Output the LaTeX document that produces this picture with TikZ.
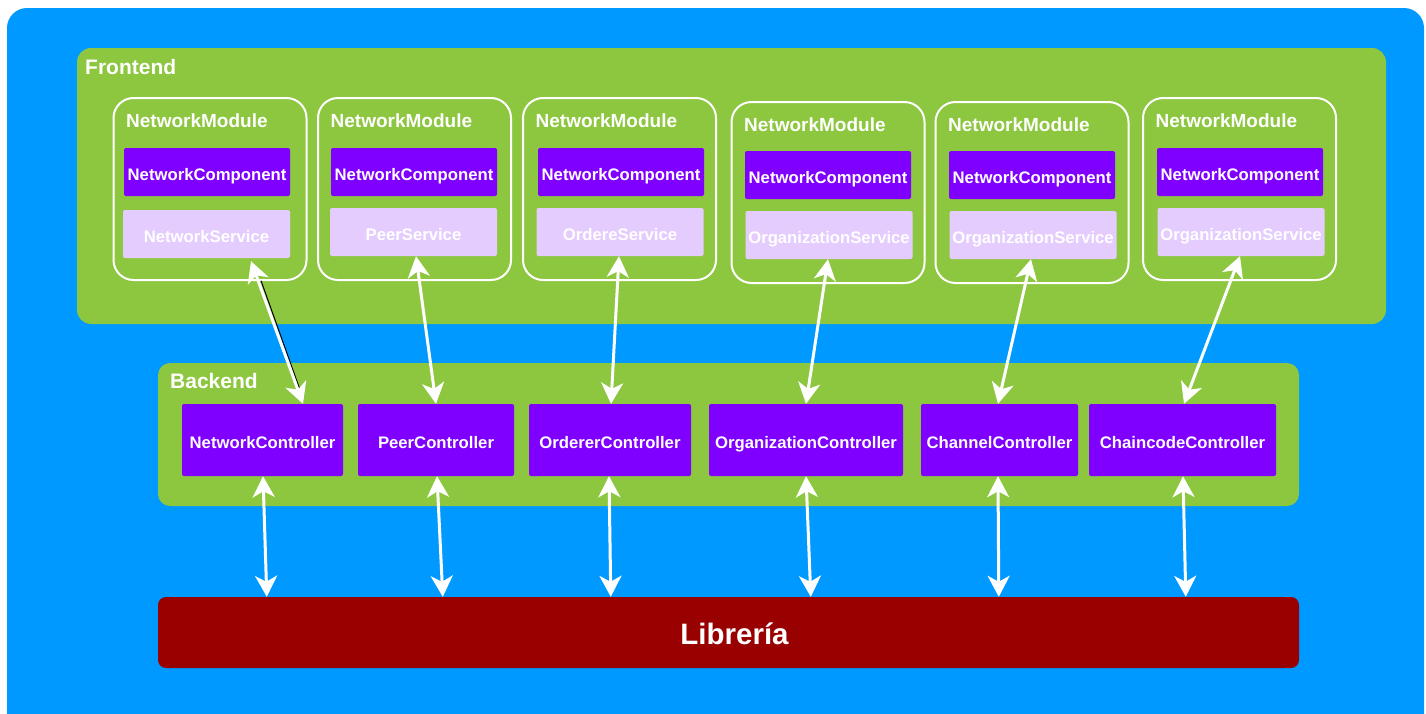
\documentclass[tikz,border=0pt]{standalone}
\usepackage{fontspec}
\setmainfont{Liberation Sans}
\usetikzlibrary{arrows.meta}

\definecolor{bgblue}{HTML}{0099FF}
\definecolor{layergreen}{HTML}{8DC63F}
\definecolor{violet}{HTML}{7F00FF}
\definecolor{lavender}{HTML}{E5CCFF}
\definecolor{libred}{HTML}{990000}

\tikzset{
  layer/.style={fill=layergreen, rounded corners=14pt, inner sep=0pt},
  layerlabel/.style={anchor=west, inner sep=0pt, text=white, font=\bfseries\fontsize{21}{24}\selectfont},
  module/.style={draw=white, line width=2pt, rounded corners=20pt, minimum width=193pt, minimum height=182pt, inner sep=0pt},
  modlabel/.style={anchor=west, inner sep=0pt, text=white, font=\bfseries\fontsize{19}{22}\selectfont},
  boxtext/.style={text=white, font=\bfseries\fontsize{16.7}{19}\selectfont, text depth=0pt},
  comp/.style={boxtext, fill=violet, rounded corners=2pt, minimum width=166pt, minimum height=48pt,
    inner sep=0pt, text height=16pt},
  service/.style={boxtext, fill=lavender, rounded corners=2pt, minimum width=167pt, minimum height=48pt,
    inner sep=0pt, text height=16pt},
  ctrl/.style={boxtext, fill=violet, rounded corners=2pt, minimum height=72pt, inner sep=0pt,
    text height=17.5pt},
  lib/.style={fill=libred, rounded corners=8pt, minimum width=1141pt, minimum height=71pt, inner sep=0pt,
    text=white, font=\bfseries\fontsize{29.5}{34}\selectfont, text height=23pt, text depth=0pt},
  link/.style={white, line width=3pt,
    {Stealth[length=21pt,width=22pt,inset=6pt]}-{Stealth[length=21pt,width=22pt,inset=6pt]}},
}

\begin{document}
\begin{tikzpicture}[x=1pt, y=-1pt]
  \useasboundingbox (0,0) rectangle (1426,713);

  % outer canvas
  \fill[bgblue, rounded corners=20pt] (7,8) rectangle (1424,740);

  % layers
  \node[layer, minimum width=1309pt, minimum height=276pt] (front) at (731.5,186) {};
  \node[layerlabel] (frontlbl) at (85,67) {Frontend};
  \node[layer, rounded corners=12pt, minimum width=1141pt, minimum height=143pt] (back) at (728.5,434.5) {};
  \node[layerlabel] (backlbl) at (170,381) {Backend};

  % frontend modules
  \node[module] (m1) at (210,189) {};
  \node[module] (m2) at (414.5,189) {};
  \node[module] (m3) at (619.5,189) {};
  \node[module, minimum height=181pt] (m4) at (828,192.5) {};
  \node[module, minimum height=181pt] (m5) at (1032,192.5) {};
  \node[module] (m6) at (1239.5,189) {};

  \foreach \m in {1,...,6}
    \node[modlabel] (l\m) at ([xshift=13.5pt,yshift=-23.5pt]m\m.north west) {NetworkModule};

  \node[comp] (c1) at (207,172) {NetworkComponent};
  \node[comp] (c2) at (414,172) {NetworkComponent};
  \node[comp] (c3) at (621,172) {NetworkComponent};
  \node[comp] (c4) at (828,175) {NetworkComponent};
  \node[comp] (c5) at (1032,175) {NetworkComponent};
  \node[comp] (c6) at (1240,172) {NetworkComponent};

  \node[service] (s1) at (206.5,234) {NetworkService};
  \node[service] (s2) at (413.5,232) {PeerService};
  \node[service] (s3) at (620,232) {OrdereService};
  \node[service] (s4) at (829,235) {OrganizationService};
  \node[service] (s5) at (1033,235) {OrganizationService};
  \node[service] (s6) at (1241,232) {OrganizationService};

  % backend controllers
  \node[ctrl, minimum width=161pt] (k1) at (262.5,440) {NetworkController};
  \node[ctrl, minimum width=156pt] (k2) at (436,440) {PeerController};
  \node[ctrl, minimum width=162pt] (k3) at (610,440) {OrdererController};
  \node[ctrl, minimum width=194pt] (k4) at (806,440) {OrganizationController};
  \node[ctrl, minimum width=157pt] (k5) at (999.5,440) {ChannelController};
  \node[ctrl, minimum width=187pt] (k6) at (1182.5,440) {ChaincodeController};

  % library
  \node[lib] (lib) at (728.5,632.5) {\hspace*{12pt}Librería};

  % service <-> controller links
  \draw[black, line width=1pt, shorten <=24pt, shorten >=14pt, transform canvas={xshift=2pt}]
    ([xshift=44.5pt]s1.south) -- ([xshift=40.5pt]k1.north);
  \draw[link] ([xshift=44.5pt,yshift=-3pt]s1.south) -- ([xshift=40.5pt]k1.north);
  \draw[link] ([xshift=2.5pt]s2.south) -- (k2.north);
  \draw[link] ([xshift=-1pt]s3.south) -- ([xshift=1pt]k3.north);
  \draw[link] ([xshift=-1pt]s4.south) -- (k4.north);
  \draw[link] ([xshift=-2pt]s5.south) -- ([xshift=-1.5pt]k5.north);
  \draw[link] ([xshift=-1pt]s6.south) -- ([xshift=1.5pt]k6.north);

  % controller <-> library links
  \draw[link] ([xshift=0.5pt]k1.south) -- ([xshift=109pt]lib.north west);
  \draw[link] ([xshift=1pt]k2.south) -- ([xshift=285pt]lib.north west);
  \draw[link] ([xshift=-1pt]k3.south) -- ([xshift=453pt]lib.north west);
  \draw[link] (k4.south) -- ([xshift=653pt]lib.north west);
  \draw[link] ([xshift=-1.5pt]k5.south) -- ([xshift=841pt]lib.north west);
  \draw[link] ([xshift=0.5pt]k6.south) -- ([xshift=1028pt]lib.north west);
\end{tikzpicture}
\end{document}
